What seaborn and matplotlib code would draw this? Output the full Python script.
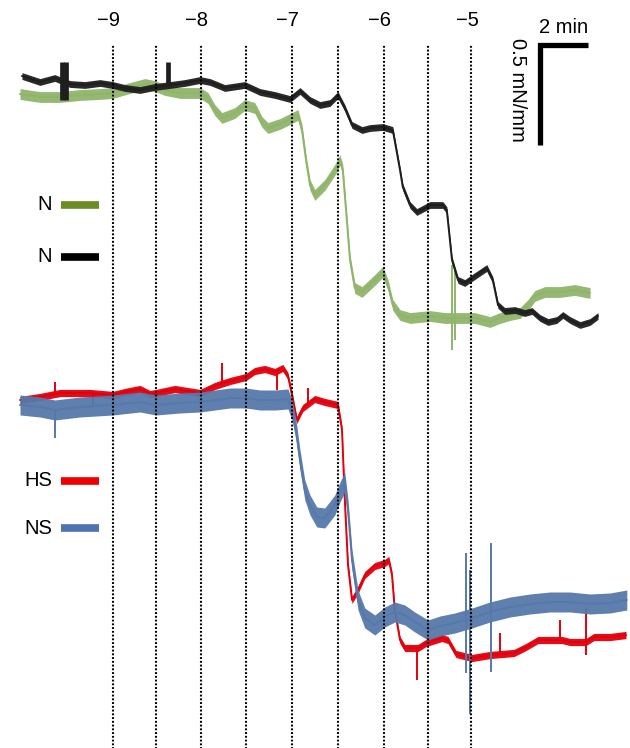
import numpy as np
import pandas as pd
import matplotlib
matplotlib.use("Agg")
import matplotlib.pyplot as plt
import seaborn as sns

# time axis in seconds, tension in mN/mm (traces offset vertically)
log_conc = [-9, -8.5, -8, -7.5, -7, -6.5, -6, -5.5, -5]
dose_t = [232, 340, 452, 565, 680, 795, 910, 1020, 1128]

n_black_t = [5, 50, 87, 125, 162, 200, 232, 262, 300, 337, 375, 412, 450, 475, 512, 562,
             600, 637, 675, 700, 725, 750, 775, 795, 812, 830, 855, 875, 907, 932, 950,
             957, 975, 992, 1025, 1057, 1067, 1080, 1095, 1112, 1130, 1167, 1182, 1195,
             1212, 1237, 1262, 1280, 1300, 1320, 1342, 1357, 1375, 1400, 1425, 1445]
n_black_v = [3.37, 3.34, 3.36, 3.33, 3.325, 3.335, 3.325, 3.31, 3.30, 3.315, 3.325, 3.335,
             3.35, 3.34, 3.31, 3.325, 3.29, 3.275, 3.255, 3.295, 3.25, 3.225, 3.235, 3.275,
             3.21, 3.125, 3.10, 3.11, 3.115, 3.10, 2.90, 2.815, 2.725, 2.69, 2.725, 2.725,
             2.70, 2.45, 2.35, 2.335, 2.36, 2.41, 2.35, 2.225, 2.195, 2.20, 2.185, 2.195,
             2.16, 2.14, 2.15, 2.175, 2.15, 2.125, 2.14, 2.17]

n_green_t = [0, 50, 100, 150, 200, 232, 275, 312, 337, 362, 400, 450, 470, 487, 505, 537,
             562, 587, 605, 620, 650, 680, 695, 705, 715, 725, 737, 762, 787, 800, 807, 815,
             825, 837, 855, 887, 907, 920, 932, 950, 975, 1025, 1062, 1112, 1137, 1175,
             1200, 1225, 1250, 1270, 1287, 1312, 1350, 1387, 1425]
n_green_v = [3.28, 3.265, 3.265, 3.275, 3.28, 3.285, 3.31, 3.33, 3.32, 3.30, 3.285, 3.285,
             3.26, 3.20, 3.16, 3.185, 3.225, 3.21, 3.14, 3.11, 3.13, 3.16, 3.175, 3.10,
             2.95, 2.825, 2.775, 2.825, 2.90, 2.95, 2.90, 2.70, 2.45, 2.31, 2.29, 2.35,
             2.39, 2.325, 2.225, 2.175, 2.16, 2.17, 2.16, 2.16, 2.16, 2.14, 2.16, 2.175,
             2.185, 2.225, 2.27, 2.29, 2.29, 2.30, 2.285]

hs_t = [0, 50, 100, 175, 232, 262, 300, 325, 340, 387, 450, 487, 525, 565, 587, 612, 637,
        657, 670, 680, 692, 707, 737, 762, 795, 805, 812, 820, 830, 845, 862, 887, 912,
        922, 930, 937, 950, 962, 995, 1015, 1055, 1070, 1090, 1130, 1175, 1235, 1265,
        1295, 1355, 1375, 1415, 1435, 1475, 1515]
hs_v = [1.75, 1.765, 1.785, 1.785, 1.775, 1.79, 1.805, 1.78, 1.785, 1.805, 1.785, 1.82,
        1.845, 1.865, 1.895, 1.905, 1.89, 1.91, 1.87, 1.775, 1.65, 1.71, 1.755, 1.74,
        1.725, 1.60, 1.25, 0.925, 0.75, 0.80, 0.875, 0.92, 0.935, 0.95, 0.875, 0.70,
        0.55, 0.51, 0.51, 0.535, 0.56, 0.55, 0.48, 0.46, 0.475, 0.485, 0.515, 0.55,
        0.55, 0.54, 0.54, 0.565, 0.565, 0.575]

ns_t = [0, 50, 87, 150, 232, 300, 340, 400, 450, 525, 565, 600, 637, 670, 680, 690, 700,
        712, 725, 742, 762, 787, 800, 812, 820, 830, 845, 862, 887, 912, 937, 962, 987,
        1020, 1050, 1087, 1130, 1175, 1225, 1275, 1325, 1375, 1425, 1475, 1517]
ns_v = [1.725, 1.715, 1.70, 1.715, 1.725, 1.74, 1.725, 1.735, 1.74, 1.76, 1.76, 1.75,
        1.75, 1.755, 1.70, 1.60, 1.45, 1.30, 1.225, 1.165, 1.16, 1.225, 1.29, 1.34,
        1.20, 0.95, 0.75, 0.66, 0.625, 0.665, 0.69, 0.675, 0.64, 0.60, 0.62, 0.635,
        0.66, 0.69, 0.715, 0.73, 0.74, 0.74, 0.73, 0.735, 0.75]

# artefact spikes: time, low, high
black_spk = [(105, 3.25, 3.44), (114, 3.25, 3.44), (370, 3.335, 3.44)]
green_spk = [(1080, 2.0, 2.425), (1088, 2.05, 2.40)]
hs_spk = [(87, 1.785, 1.84), (182, 1.715, 1.785), (505, 1.83, 1.935), (642, 1.80, 1.89),
          (720, 1.73, 1.81), (992, 0.35, 0.51), (1200, 0.475, 0.585),
          (1350, 0.55, 0.65), (1415, 0.475, 0.71)]
ns_spk = [(87, 1.56, 1.70), (1115, 0.385, 0.985), (1125, 0.18, 0.90), (1177, 0.39, 1.035)]

traces = [
    ("N", n_green_t, n_green_v, green_spk, "#8fb46a", "#6b8e23", 0.027),
    ("N", n_black_t, n_black_v, black_spk, "#1e1e1e", "#000000", 0.017),
    ("HS", hs_t, hs_v, hs_spk, "#e2000c", "#ee0000", 0.018),
    ("NS", ns_t, ns_v, ns_spk, "#5679aa", "#4f74ad", 0.05),
]

sns.set_theme(style="white")
plt.rcParams["font.family"] = ["Liberation Sans", "DejaVu Sans"]
plt.rcParams["text.color"] = "black"

fig = plt.figure(figsize=(6.3, 7.48), dpi=100)
ax = fig.add_axes([0, 0, 1, 1])
ax.set_xlim(-50, 1525)
ax.set_ylim(0.01, 3.75)
ax.axis("off")

# draw NS before HS and green before black so overlaps match
for idx in [0, 1, 3, 2]:
    label, t, v, spk, col, _, hw = traces[idx]
    df = pd.DataFrame({"t": t, "v": v})
    v_arr = np.array(v)
    ax.fill_between(df["t"], v_arr - hw, v_arr + hw, color=col, lw=0, alpha=0.95, zorder=2 + idx)
    sns.lineplot(data=df, x="t", y="v", ax=ax, color=col, lw=1.4, sort=False,
                 estimator=None, zorder=2 + idx)
    spk_lw = 3.4 if idx == 1 else 1.4
    for st, lo, hi in spk:
        ax.vlines(st, lo, hi, color=col, lw=spk_lw, zorder=2 + idx)

# dose lines and labels
ax.vlines(dose_t, 0, 3.525, colors="black", linestyles=(0, (0.9, 0.9)), lw=1.5, zorder=10)
for lc, dt in zip(log_conc, dose_t):
    if lc == int(lc):
        ax.annotate(f"\u2212{abs(int(lc))}", (dt, 3.65), xytext=(-3, 0), color="black",
                    textcoords="offset points", ha="center", va="center", fontsize=14.5)

# scale bar: 2 min x 0.5 mN/mm
ax.plot([1420, 1300, 1300], [3.525, 3.525, 3.025], color="black", lw=3.8,
        solid_joinstyle="miter", solid_capstyle="butt", zorder=10)
ax.text(1360, 3.615, "2 min", ha="center", va="center", fontsize=14.5, color="black")
ax.text(1243, 3.30, "0.5 mN/mm", ha="center", va="center", rotation=270, fontsize=14.5,
        color="black")

# legend keys
key_rows = [(205, 0), (257, 1), (481, 2), (528, 3)]
for py, idx in key_rows:
    label, _, _, _, _, key_col, _ = traces[idx]
    yf = 1 - py / 748
    fig.text(52 / 630, yf, label, ha="right", va="center", fontsize=14.5, color="black")
    fig.add_artist(plt.Line2D([61 / 630, 99 / 630], [yf, yf], color=key_col, lw=5.5,
                              transform=fig.transFigure, solid_capstyle="butt"))

fig.savefig("out.png", dpi=100, facecolor="white")
